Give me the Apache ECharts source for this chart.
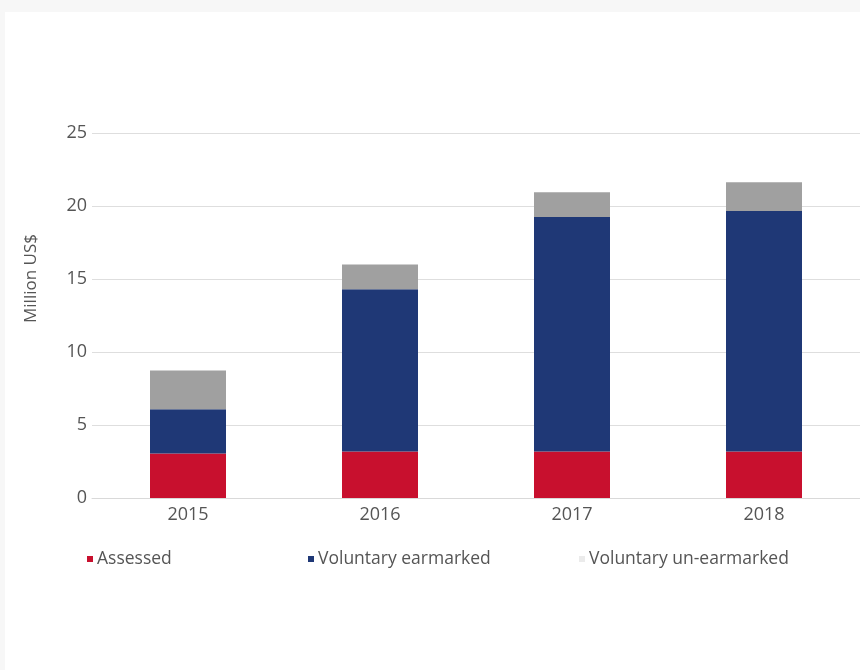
<!DOCTYPE html>
<html>
<head>
<meta charset="utf-8">
<script src="https://cdn.jsdelivr.net/npm/echarts@6/dist/echarts.min.js"></script>
<style>
  html, body { margin: 0; padding: 0; background: #f7f7f7; }
  #panel { position: absolute; left: 5px; top: 12px; right: 0; bottom: 0; background: #ffffff; }
  #chart { position: absolute; left: 0; top: 0; width: 860px; height: 670px; }
</style>
</head>
<body>
<div id="panel"></div>
<div id="chart"></div>
<script>
var categories = ['2015', '2016', '2017', '2018'];
var assessed = [3.04, 3.18, 3.18, 3.18];
var earmarked = [3.04, 11.11, 16.07, 16.48];
var unearmarked = [2.65, 1.70, 1.69, 1.96];
var seriesNames = ['Assessed', 'Voluntary earmarked', 'Voluntary un-earmarked'];
var yTicks = { min: 0, max: 25, interval: 5 };

var FONT = '"Open Sans", "Noto Sans", sans-serif';
var chart = echarts.init(document.getElementById('chart'), null, { renderer: 'canvas' });

function legendAt(name, left, color) {
  return {
    left: left, top: 545,
    itemWidth: 6, itemHeight: 6, itemGap: 0,
    icon: 'rect',
    selectedMode: false,
    textStyle: { color: '#555555', fontSize: 17.5, fontFamily: FONT, padding: [0, 0, 0, -1] },
    data: [{ name: name, itemStyle: { color: color } }]
  };
}

chart.setOption({
  backgroundColor: 'transparent',
  animation: false,
  grid: { left: 92, right: 0, top: 133, bottom: 172 },
  legend: [
    legendAt(seriesNames[0], 82, '#c8102e'),
    legendAt(seriesNames[1], 303, '#1f3876'),
    legendAt(seriesNames[2], 574, '#ebebeb')
  ],
  graphic: [{
    type: 'text',
    left: 23, top: 234,
    rotation: Math.PI / 2,
    style: { text: 'Million US$', fill: '#555555', font: '17px ' + FONT }
  }],
  xAxis: {
    type: 'category',
    data: categories,
    axisLine: { show: true, lineStyle: { color: '#d9d9d9', width: 1 } },
    axisTick: { show: false },
    axisLabel: { color: '#555555', fontSize: 18, fontFamily: FONT, margin: 8 }
  },
  yAxis: {
    type: 'value',
    min: yTicks.min, max: yTicks.max, interval: yTicks.interval,
    axisLine: { show: false },
    axisTick: { show: false },
    splitLine: { lineStyle: { color: '#dedede', width: 1 } },
    axisLabel: { color: '#555555', fontSize: 18, fontFamily: FONT, margin: 5 }
  },
  series: [
    { name: seriesNames[0], type: 'bar', stack: 'total', data: assessed, barWidth: 76,
      itemStyle: { color: '#c8102e' } },
    { name: seriesNames[1], type: 'bar', stack: 'total', data: earmarked, barWidth: 76,
      itemStyle: { color: '#1f3876' } },
    { name: seriesNames[2], type: 'bar', stack: 'total', data: unearmarked, barWidth: 76,
      itemStyle: { color: '#a0a0a0' } }
  ]
});
</script>
</body>
</html>
